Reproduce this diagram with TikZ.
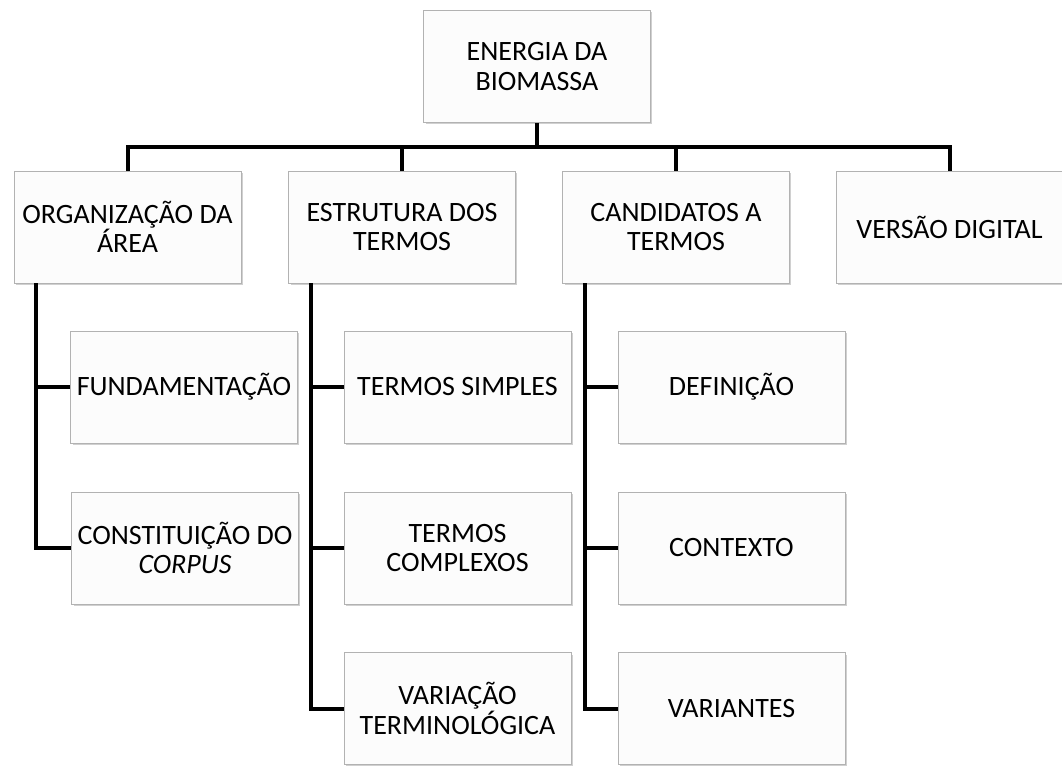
\documentclass[tikz,border=0pt]{standalone}
\usepackage{fontspec}
\setmainfont{Carlito}
\usetikzlibrary{calc,shadows}

\tikzset{
  box/.style={draw=gray!60, fill=gray!2, minimum width=170pt, minimum height=84pt,
    inner sep=2pt, align=center, font=\fontsize{21}{22}\selectfont,
    drop shadow={shadow xshift=1.5pt, shadow yshift=-1.5pt, fill=gray!60, opacity=.6}},
  link/.style={line width=3pt}
}

\begin{document}
\begin{tikzpicture}[x=0.75pt, y=-0.75pt]
    % page frame
    \fill[white] (0,0) rectangle (1062,766);
    \useasboundingbox (0,0) rectangle (1062,766);

    % draw top node
    \node[box] (root) at (537,66.5) {ENERGIA DA\\BIOMASSA};

    % draw first level
    \node[box] (org)  at (127.5,227) {ORGANIZAÇÃO DA\\ÁREA};
    \node[box] (est)  at (402,227)   {ESTRUTURA DOS\\TERMOS};
    \node[box] (cand) at (676,227)   {CANDIDATOS A\\TERMOS};
    \node[box] (ver)  at (949.5,227) {VERSÃO DIGITAL};

    % draw second level
    \node[box] (fund)  at (184,387)   {FUNDAMENTAÇÃO};
    \node[box] (const) at (185,548)   {CONSTITUIÇÃO DO\\\textit{CORPUS}};
    \node[box] (simp)  at (457.5,387) {TERMOS SIMPLES};
    \node[box] (comp)  at (457.5,548) {TERMOS\\COMPLEXOS};
    \node[box] (var)   at (457.5,708.5) {VARIAÇÃO\\TERMINOLÓGICA};
    \node[box] (def)   at (731.5,387) {DEFINIÇÃO};
    \node[box] (cont)  at (731.5,548) {CONTEXTO};
    \node[box] (vari)  at (731.5,708.5) {VARIANTES};

    % draw top connectors
    \coordinate (bar) at (537,147);
    \draw[link] (root.south) -- (bar);
    \draw[link] (org.north) -- (org.north |- bar) -- (ver.north |- bar) -- (ver.north);
    \draw[link] (est.north) -- (est.north |- bar);
    \draw[link] (cand.north) -- (cand.north |- bar);

    % draw branch connectors
    \foreach \p/\c in {org/fund, org/const, est/simp, est/comp, est/var,
                       cand/def, cand/cont, cand/vari}
    \draw[link] ($(\p.south west)+(22.5,0)$) |- (\c.west);

\end{tikzpicture}
\end{document}
